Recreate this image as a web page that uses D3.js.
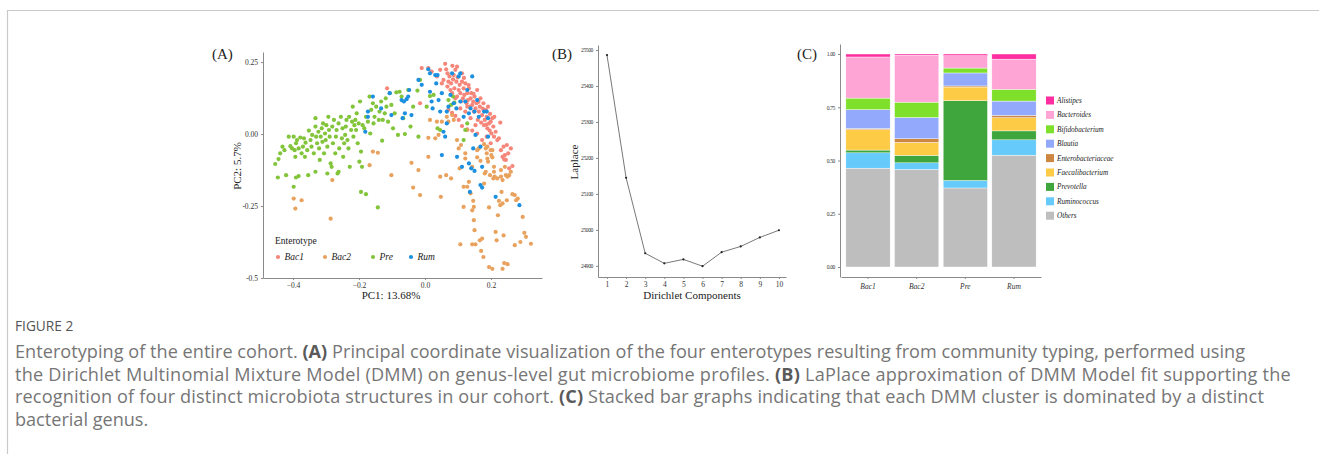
<!DOCTYPE html>
<head>
    <title>Enterotyping of the entire cohort</title>
    <meta charset="utf-8">
    <style>
        body { margin: 0; background: #fff; }
        svg { display: block; }
        .serif { font-family: "Liberation Serif", "Times New Roman", serif; fill: #222; }
        .axis path, .axis line { stroke: #8a8a8a; }
        .axis text { font-family: "Liberation Serif", serif; fill: #333; }
        .cap { font-family: "Open Sans", sans-serif; fill: #767676; font-size: 18.1px; }
        .cap .b { font-weight: 700; fill: #5a5a5a; }
    </style>
    <script src="https://cdn.jsdelivr.net/npm/d3@7"></script>
</head>
<body>
<svg width="1319" height="454"></svg>
<script>

// ---- panel A: PCoA points, one array per enterotype [PC1, PC2]
var bac1Pts = [[0.010,0.229],[0.020,0.217],[0.036,0.200],[0.046,0.223],[0.051,0.176],[0.056,0.188],[0.061,0.244],[0.064,0.225],
  [0.068,0.211],[0.068,0.165],[0.071,0.182],[0.074,0.200],[0.077,0.153],[0.079,0.176],[0.083,0.237],[0.085,0.190],[0.087,0.205],
  [0.089,0.159],[0.092,0.223],[0.095,0.182],[0.097,0.130],[0.099,0.197],[0.102,0.153],[0.105,0.171],[0.107,0.142],[0.109,0.113],
  [0.112,0.182],[0.115,0.124],[0.117,0.159],[0.119,0.136],[0.122,0.176],[0.126,0.107],[0.128,0.142],[0.130,0.118],[0.133,0.159],
  [0.136,0.095],[0.138,0.124],[0.140,0.142],[0.143,0.101],[0.146,0.113],[0.148,0.078],[0.150,0.130],[0.153,0.089],[0.156,0.107],
  [0.158,0.153],[0.160,0.049],[0.163,0.078],[0.166,0.095],[0.168,0.124],[0.170,0.040],[0.173,0.066],[0.177,0.107],[0.179,0.031],
  [0.181,0.049],[0.184,0.084],[0.187,0.060],[0.189,0.020],[0.191,0.095],[0.194,0.037],[0.197,0.070],[0.199,0.043],[0.201,0.002],
  [0.204,0.055],[0.207,0.026],[0.209,-0.009],[0.214,0.008],[0.219,-0.021],[0.224,-0.015],[0.228,0.040],[0.230,-0.056],[0.235,-0.079],
  [0.238,-0.044],[0.242,-0.073],[0.245,-0.090],[0.248,-0.038],[0.252,-0.067],[0.255,-0.119],[0.260,-0.050],[0.265,-0.111],[0.240,-0.088],
  [0.199,-0.032],[0.187,-0.009],[0.173,-0.021],[0.158,0.002],[0.143,0.012],[0.128,0.016],[0.112,0.028],[0.102,0.049],[0.092,0.063],
  [0.082,0.074],[0.071,0.084],[-0.115,0.159],[-0.015,0.107],[-0.010,0.229],[0.128,0.095],[0.138,0.055],[0.153,0.031],[0.122,0.078],
  [0.107,0.089],[0.092,0.124],[0.082,0.142],[0.112,0.211],[0.097,0.234],[0.118,0.195],[0.132,0.170],[0.147,0.140],[0.162,0.112],
  [0.175,0.088],[0.186,0.033],[0.196,0.012],[0.210,0.060]];

var bac2Pts = [[-0.398,-0.224],[-0.393,-0.259],[-0.374,-0.230],[-0.286,-0.294],[-0.281,-0.160],[-0.168,-0.108],[-0.158,-0.061],
  [-0.143,-0.065],[-0.102,-0.143],[-0.041,-0.100],[-0.036,-0.186],[-0.020,-0.125],[-0.015,-0.212],[0.010,-0.013],[0.010,-0.079],
  [0.015,0.049],[0.031,-0.015],[0.036,0.043],[0.041,-0.003],[0.048,-0.218],[0.051,0.043],[0.064,-0.143],[0.066,0.060],[0.071,0.043],
  [0.079,-0.154],[0.082,0.066],[0.087,0.049],[0.102,-0.050],[0.105,-0.119],[0.107,-0.383],[0.109,-0.038],[0.117,-0.253],[0.122,-0.085],
  [0.128,0.014],[0.128,-0.183],[0.133,-0.166],[0.138,-0.206],[0.143,-0.265],[0.146,-0.232],[0.148,-0.299],[0.150,-0.334],[0.153,-0.383],
  [0.158,-0.056],[0.163,-0.050],[0.166,-0.369],[0.168,-0.093],[0.170,-0.406],[0.173,-0.363],[0.177,-0.427],[0.179,-0.035],[0.181,-0.137],
  [0.184,-0.050],[0.187,-0.067],[0.189,-0.085],[0.191,-0.096],[0.194,-0.255],[0.197,-0.143],[0.199,-0.056],[0.201,-0.073],[0.204,-0.081],
  [0.207,-0.154],[0.209,-0.114],[0.211,-0.148],[0.214,-0.340],[0.217,-0.369],[0.219,-0.154],[0.221,-0.282],[0.224,-0.232],[0.228,-0.247],
  [0.230,-0.148],[0.232,-0.201],[0.235,-0.241],[0.238,-0.352],[0.240,-0.448],[0.242,-0.114],[0.245,-0.143],[0.248,-0.230],[0.250,-0.452],
  [0.255,-0.143],[0.260,-0.131],[0.265,-0.209],[0.272,-0.212],[0.272,-0.386],[0.276,-0.230],[0.281,-0.224],[0.289,-0.375],[0.296,-0.288],
  [0.301,-0.343],[0.306,-0.357],[0.321,-0.381],[0.204,-0.468],[0.235,-0.468],[0.194,-0.462],[0.143,-0.383],[0.097,-0.021],[0.122,-0.067],
  [0.158,-0.081],[0.184,-0.131],[0.209,-0.131],[0.143,-0.114],[0.189,-0.044],[0.204,-0.056],[0.230,-0.125],[0.235,-0.160],[0.250,-0.148],
  [0.179,-0.172],[0.148,-0.253],[0.117,-0.183],[0.046,-0.148]];

var prePts = [[-0.454,-0.104],[-0.446,-0.151],[-0.444,-0.087],[-0.439,-0.067],[-0.432,-0.044],[-0.426,-0.056],[-0.421,-0.143],
  [-0.413,-0.009],[-0.408,-0.042],[-0.403,-0.050],[-0.398,-0.009],[-0.398,-0.183],[-0.395,-0.056],[-0.393,-0.079],[-0.391,-0.032],
  [-0.388,-0.021],[-0.383,-0.050],[-0.383,-0.146],[-0.378,-0.012],[-0.374,-0.067],[-0.370,-0.044],[-0.367,-0.015],[-0.364,-0.079],
  [-0.362,-0.030],[-0.357,-0.056],[-0.354,-0.143],[-0.352,0.012],[-0.347,-0.021],[-0.344,-0.044],[-0.342,-0.003],[-0.337,-0.067],
  [-0.332,0.055],[-0.332,0.026],[-0.330,-0.009],[-0.327,-0.032],[-0.323,0.008],[-0.321,-0.050],[-0.319,-0.090],[-0.316,-0.009],
  [-0.313,0.020],[-0.311,-0.027],[-0.309,0.037],[-0.306,-0.067],[-0.303,0.002],[-0.301,-0.021],[-0.299,0.031],[-0.296,-0.044],
  [-0.293,0.060],[-0.291,0.014],[-0.289,-0.009],[-0.286,-0.102],[-0.283,-0.114],[-0.281,0.026],[-0.279,-0.032],[-0.276,0.049],
  [-0.272,-0.067],[-0.270,-0.009],[-0.268,0.014],[-0.265,-0.137],[-0.262,0.037],[-0.260,-0.050],[-0.255,0.060],[-0.252,-0.015],
  [-0.250,0.020],[-0.248,-0.079],[-0.245,-0.032],[-0.242,-0.003],[-0.240,0.026],[-0.238,0.049],[-0.235,-0.021],[-0.232,-0.050],
  [-0.230,0.060],[-0.228,-0.114],[-0.224,0.014],[-0.221,0.043],[-0.219,0.095],[-0.217,-0.009],[-0.214,0.031],[-0.211,0.049],
  [-0.209,0.014],[-0.207,0.072],[-0.204,-0.032],[-0.201,0.037],[-0.197,0.113],[-0.194,-0.061],[-0.194,-0.201],[-0.191,-0.114],
  [-0.189,0.031],[-0.184,0.020],[-0.179,-0.209],[-0.179,0.060],[-0.173,0.043],[-0.168,0.130],[-0.166,0.002],[-0.163,0.084],
  [-0.158,0.107],[-0.156,0.037],[-0.153,0.060],[-0.148,0.095],[-0.143,-0.255],[-0.140,0.049],[-0.138,0.078],[-0.133,0.113],
  [-0.130,-0.023],[-0.128,0.049],[-0.122,0.072],[-0.119,0.124],[-0.117,0.095],[-0.112,0.043],[-0.107,0.142],[-0.102,0.101],
  [-0.097,0.020],[-0.092,0.072],[-0.087,0.145],[-0.082,-0.003],[-0.077,0.147],[-0.071,0.130],[-0.066,0.055],[-0.061,0.000],
  [-0.051,0.153],[-0.044,0.026],[-0.036,0.095],[-0.023,0.151],[-0.020,-0.009],[-0.015,0.188],[0.005,0.095],[0.015,0.132],
  [0.026,0.136],[0.038,0.020],[0.046,0.014],[0.071,0.118],[0.079,0.101],[0.085,0.130],[0.089,0.109],[0.117,-0.021],[0.122,0.014],
  [0.128,0.037],[-0.391,-0.151],[-0.332,-0.131],[-0.296,-0.137],[-0.262,-0.131],[-0.199,-0.096]];

var rumPts = [[-0.181,0.008],[-0.173,0.078],[-0.173,0.060],[-0.158,0.130],[-0.133,0.089],[-0.107,0.142],[-0.102,0.066],
  [-0.071,0.118],[-0.068,0.055],[-0.064,0.113],[-0.061,0.072],[-0.056,0.121],[-0.051,0.130],[-0.048,0.153],[-0.041,0.066],
  [-0.020,0.188],[-0.010,0.171],[0.010,0.225],[0.015,0.211],[0.015,0.147],[0.020,0.113],[0.023,0.089],[0.031,0.205],[0.034,0.176],
  [0.038,0.205],[0.041,0.118],[0.046,0.078],[0.051,0.142],[0.056,0.008],[0.061,-0.009],[0.066,0.078],[0.071,0.095],[0.077,0.136],
  [0.082,0.211],[0.087,0.107],[0.095,0.089],[0.102,0.200],[0.107,0.211],[0.107,0.113],[0.117,0.060],[0.122,0.113],[0.128,0.153],
  [0.133,0.072],[0.138,0.089],[0.143,0.200],[0.146,-0.050],[0.150,0.078],[0.153,-0.003],[0.158,0.118],[0.163,0.060],[0.168,-0.044],
  [0.173,-0.114],[0.179,0.078],[0.187,0.078],[0.191,0.055],[0.191,-0.009],[0.097,-0.079],[0.112,-0.114],[0.133,-0.102],
  [0.136,-0.201],[0.140,-0.119],[0.150,-0.128],[0.168,-0.177],[0.173,-0.186],[0.214,-0.218],[0.286,-0.247],[0.051,-0.073],[0.066,0.037]];

var enterotypes = ["Bac1", "Bac2", "Pre", "Rum"];
var typeColors = ["#f6857a", "#e9a25e", "#82c43a", "#1b8fe0"];
var pcXTicks = [-0.4, -0.2, 0.0, 0.2];
var pcYTicks = [-0.5, -0.25, 0.00, 0.25];
var pcYLabels = ["-0.5", "-0.25", "0.00", "0.25"];

// ---- panel B: LaPlace fit by number of Dirichlet components
var components = [1, 2, 3, 4, 5, 6, 7, 8, 9, 10];
var laplace = [25486, 25145, 24935, 24907, 24918, 24899, 24938, 24954, 24979, 24999];
var laplaceTicks = [24900, 25000, 25100, 25200, 25300, 25400, 25500];

// ---- panel C: genus composition per cluster (stack order bottom -> top)
var genera = ["Others", "Ruminococcus", "Prevotella", "Faecalibacterium", "Enterobacteriaceae",
              "Blautia", "Bifidobacterium", "Bacteroides", "Alistipes"];
var generaColors = ["#bebebe", "#66cbfb", "#3ea63c", "#fecb47", "#cc8742", "#93aafc", "#7fe02c", "#fea5d6", "#fe2ea0"];
var bac1Comp = [0.464, 0.072, 0.013, 0.096, 0.005, 0.089, 0.054, 0.193, 0.014];
var bac2Comp = [0.458, 0.031, 0.035, 0.061, 0.017, 0.100, 0.072, 0.220, 0.006];
var preComp  = [0.371, 0.035, 0.375, 0.064, 0.005, 0.061, 0.023, 0.058, 0.008];
var rumComp  = [0.525, 0.072, 0.042, 0.062, 0.011, 0.067, 0.055, 0.142, 0.024];
var fracTicks = [0, 0.25, 0.5, 0.75, 1];

var svg = d3.select("svg");

// page frame
svg.append("path")
    .attr("d", "M7.5,454V10.5H1319")
    .attr("fill", "none")
    .attr("stroke", "#c9c9c9")
    .attr("stroke-width", 1.2);

// ================= A =================
var xA = d3.scaleLinear().domain([-0.491, 0.3545]).range([263, 542]);
var yA = d3.scaleLinear().domain([-0.5, 0.285]).range([278, 52]);
var colA = d3.scaleOrdinal().domain(enterotypes).range(typeColors);

var gA = svg.append("g");

gA.append("g").attr("class", "axis")
    .attr("transform", "translate(0,278)")
    .call(d3.axisBottom(xA).tickValues(pcXTicks).tickFormat(d3.format(".1f")).tickSize(2).tickSizeOuter(0))
    .call(function(g) { g.selectAll("text").attr("font-size", 7.5).attr("dy", "0.72em"); });

gA.append("g").attr("class", "axis")
    .attr("transform", "translate(263,0)")
    .call(d3.axisLeft(yA).tickValues(pcYTicks).tickFormat(function(d, i) { return pcYLabels[i]; }).tickSize(2).tickSizeOuter(0))
    .call(function(g) { g.selectAll("text").attr("font-size", 7.5); });

var ptSets = [bac1Pts, bac2Pts, prePts, rumPts];
ptSets.forEach(function(pts, i) {
  gA.append("g").selectAll("circle")
      .data(pts)
    .enter().append("circle")
      .attr("cx", function(d) { return xA(d[0]); })
      .attr("cy", function(d) { return yA(d[1]); })
      .attr("r", 2.1)
      .attr("fill", colA(enterotypes[i]));
});

gA.append("text").attr("class", "serif").attr("x", 212).attr("y", 59).attr("font-size", 15).text("(A)");
gA.append("text").attr("class", "serif").attr("x", 391).attr("y", 299)
    .attr("text-anchor", "middle").attr("font-size", 11).text("PC1: 13.68%");
gA.append("text").attr("class", "serif")
    .attr("transform", "translate(241,166) rotate(-90)")
    .attr("text-anchor", "middle").attr("font-size", 11).text("PC2: 5.7%");

// legend
gA.append("text").attr("class", "serif").attr("x", 275).attr("y", 244).attr("font-size", 9.5).text("Enterotype");
var legX = [278, 325, 373, 411];
var legA = gA.append("g").selectAll("g")
    .data(enterotypes)
  .enter().append("g")
    .attr("transform", function(d, i) { return "translate(" + legX[i] + ",257)"; });
legA.append("circle").attr("r", 2.1).attr("fill", function(d) { return colA(d); });
legA.append("text").attr("class", "serif")
    .attr("x", 6.5).attr("y", 3.2)
    .attr("font-size", 9.5).attr("font-style", "italic")
    .text(function(d) { return d; });

// ================= B =================
var xB = d3.scaleLinear().domain([0.53, 10.37]).range([598, 786]);
var yB = d3.scaleLinear().domain([24869, 25514]).range([277, 45]);
var gB = svg.append("g");

gB.append("g").attr("class", "axis")
    .attr("transform", "translate(0,277)")
    .call(d3.axisBottom(xB).tickValues(components).tickFormat(d3.format("d")).tickSize(2).tickSizeOuter(0))
    .call(function(g) { g.selectAll("text").attr("font-size", 7.5).attr("dy", "0.72em"); });

gB.append("g").attr("class", "axis")
    .attr("transform", "translate(598,0)")
    .call(d3.axisLeft(yB).tickValues(laplaceTicks).tickFormat(d3.format("d")).tickSize(2).tickSizeOuter(0))
    .call(function(g) { g.selectAll("text").attr("font-size", 5.6).attr("letter-spacing", -0.4); });

var lineB = d3.line()
    .x(function(d, i) { return xB(components[i]); })
    .y(function(d) { return yB(d); });

gB.append("path")
    .datum(laplace)
    .attr("d", lineB)
    .attr("fill", "none")
    .attr("stroke", "#555")
    .attr("stroke-width", 0.8);

gB.selectAll(".pt")
    .data(laplace)
  .enter().append("circle")
    .attr("class", "pt")
    .attr("cx", function(d, i) { return xB(components[i]); })
    .attr("cy", function(d) { return yB(d); })
    .attr("r", 1.1)
    .attr("fill", "#222");

gB.append("text").attr("class", "serif").attr("x", 552).attr("y", 59).attr("font-size", 15).text("(B)");
gB.append("text").attr("class", "serif").attr("x", 692).attr("y", 299)
    .attr("text-anchor", "middle").attr("font-size", 11).text("Dirichlet Components");
gB.append("text").attr("class", "serif")
    .attr("transform", "translate(578,162) rotate(-90)")
    .attr("text-anchor", "middle").attr("font-size", 11).text("Laplace");

// ================= C =================
var comps = [bac1Comp, bac2Comp, preComp, rumComp];
var rowsC = enterotypes.map(function(t, i) {
  var r = { type: t };
  genera.forEach(function(g, j) { r[g] = comps[i][j]; });
  return r;
});
var stackC = d3.stack().keys(genera)(rowsC);

var xC = d3.scaleBand().domain(enterotypes).range([841, 1041]).paddingInner(0.09).paddingOuter(0.1);
var yC = d3.scaleLinear().domain([-0.047, 1.047]).range([277, 44]);
var colC = d3.scaleOrdinal().domain(genera).range(generaColors);
var gC = svg.append("g");

gC.append("g").attr("class", "axis")
    .attr("transform", "translate(0,277)")
    .call(d3.axisBottom(xC).tickSize(2).tickSizeOuter(0))
    .call(function(g) { g.selectAll("text").attr("font-size", 7.5).attr("font-style", "italic").attr("dy", "0.9em"); });

gC.append("g").attr("class", "axis")
    .attr("transform", "translate(840,0)")
    .call(d3.axisLeft(yC).tickValues(fracTicks).tickFormat(d3.format(".2f")).tickSize(2).tickSizeOuter(0))
    .call(function(g) { g.selectAll("text").attr("font-size", 5.6).attr("letter-spacing", -0.4); });

gC.append("g").selectAll("g")
    .data(stackC)
  .enter().append("g")
    .attr("fill", function(d) { return colC(d.key); })
  .selectAll("rect")
    .data(function(d) { return d; })
  .enter().append("rect")
    .attr("x", function(d) { return xC(d.data.type); })
    .attr("y", function(d) { return yC(d[1]); })
    .attr("width", xC.bandwidth())
    .attr("height", function(d) { return yC(d[0]) - yC(d[1]); })
    .attr("stroke", "#fff")
    .attr("stroke-width", 0.4);

gC.append("text").attr("class", "serif").attr("x", 797).attr("y", 59).attr("font-size", 15).text("(C)");

var legC = gC.append("g").selectAll("g")
    .data(genera.slice().reverse())
  .enter().append("g")
    .attr("transform", function(d, i) { return "translate(1046," + (96.5 + i * 14.4) + ")"; });
legC.append("rect").attr("width", 8).attr("height", 8).attr("fill", function(d) { return colC(d); });
legC.append("text").attr("class", "serif")
    .attr("x", 11).attr("y", 6.6)
    .attr("font-size", 7.2).attr("font-style", "italic")
    .text(function(d) { return d; });

// ================= caption =================
var capLines = [
  [["", "Enterotyping of the entire cohort. "], ["b", "(A)"], ["", " Principal coordinate visualization of the four enterotypes resulting from community typing, performed using"]],
  [["", "the Dirichlet Multinomial Mixture Model (DMM) on genus-level gut microbiome profiles. "], ["b", "(B)"], ["", " LaPlace approximation of DMM Model fit supporting the"]],
  [["", "recognition of four distinct microbiota structures in our cohort. "], ["b", "(C)"], ["", " Stacked bar graphs indicating that each DMM cluster is dominated by a distinct"]],
  [["", "bacterial genus."]]
];
var capWidths = [1230, 1276, 1249, null];

svg.append("text")
    .attr("x", 15).attr("y", 331)
    .attr("font-family", "Open Sans, sans-serif")
    .attr("font-size", 13.7)
    .attr("fill", "#555")
    .text("FIGURE 2");

var cap = svg.append("g").attr("class", "cap");
capLines.forEach(function(line, i) {
  var t = cap.append("text").attr("x", 15).attr("y", 358 + i * 22.6);
  var spans = line.map(function(seg) {
    return t.append("tspan").attr("class", seg[0]).text(seg[1]);
  });
  // spread the letters so each line ends where the printed line ends
  if (capWidths[i]) {
    var n = line.reduce(function(s, seg) { return s + seg[1].length; }, 0);
    var w = t.node().getComputedTextLength();
    var ls = Math.max(0, (capWidths[i] - w) / n);
    spans.forEach(function(s) { s.style("letter-spacing", ls + "px"); });
  }
});

</script>
</body>
